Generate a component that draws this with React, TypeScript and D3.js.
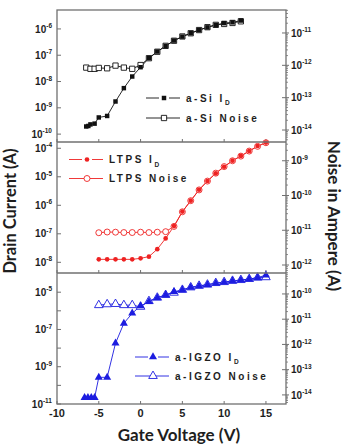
import * as d3 from 'd3';
import * as React from 'react';

// gate sweeps (V) and currents (A) for the three TFT technologies
const asiIdGate = [-6.5, -6.25, -6, -5.5, -5, -4, -3, -2, -1, 0, 1, 2, 3, 4, 5, 6, 7, 8, 9, 10, 11, 12];
const asiIdAmps = [1.95e-10, 2.04e-10, 2.34e-10, 2.5e-10, 4.3e-10, 4.9e-10, 1.74e-9, 5.6e-9, 1.55e-8, 3.5e-8,
    7.8e-8, 1.38e-7, 2.24e-7, 3.6e-7, 5.1e-7, 6.9e-7, 9.1e-7, 1.15e-6, 1.41e-6, 1.66e-6, 1.78e-6, 2.09e-6];
const asiNoiseGate = [-6.5, -6, -5.5, -5, -4, -3, -2, -1, 0, 1, 2, 3, 4, 5, 6, 7, 8, 9, 10, 11, 12];
const asiNoiseAmps = [8.5e-13, 7.8e-13, 7.8e-13, 8.3e-13, 8.1e-13, 9.8e-13, 8.5e-13, 7.8e-13, 1.02e-12, 1.66e-12,
    2.63e-12, 4.0e-12, 5.75e-12, 7.8e-12, 9.8e-12, 1.23e-11, 1.51e-11, 1.78e-11, 1.9e-11, 2.04e-11, 2.29e-11];

const ltpsGate = [-5, -4, -3, -2, -1, 0, 1, 2, 3, 4, 5, 6, 7, 8, 9, 10, 11, 12, 13, 14, 15];
const ltpsIdAmps = [1.27e-8, 1.27e-8, 1.27e-8, 1.27e-8, 1.27e-8, 1.38e-8, 1.58e-8, 2.9e-8, 6.9e-8, 1.86e-7,
    6.0e-7, 1.45e-6, 3.5e-6, 7.1e-6, 1.32e-5, 2.24e-5, 3.67e-5, 5.4e-5, 8.0e-5, 1.2e-4, 1.58e-4];
const ltpsNoiseAmps = [8.5e-12, 8.9e-12, 8.8e-12, 8.6e-12, 8.6e-12, 8.8e-12, 8.6e-12, 8.8e-12, 9.1e-12, 1.29e-11,
    3.4e-11, 7.1e-11, 1.45e-10, 2.6e-10, 4.4e-10, 6.8e-10, 1.0e-9, 1.36e-9, 1.9e-9, 2.6e-9, 3.3e-9];

const igzoIdGate = [-6.7, -6.3, -5.9, -5.5, -5, -4, -3, -2, -1, 0, 1, 2, 3, 4, 5, 6, 7, 8, 9, 10, 11, 12, 13, 14, 15];
const igzoIdAmps = [2.2e-11, 2.2e-11, 2.2e-11, 2.2e-11, 2.7e-10, 2.7e-10, 1.82e-8, 2.14e-7, 7.4e-7, 1.82e-6,
    3.1e-6, 5.0e-6, 7.1e-6, 1.07e-5, 1.32e-5, 1.82e-5, 2.14e-5, 2.5e-5, 3.0e-5, 3.4e-5, 4.0e-5, 4.5e-5,
    5.1e-5, 6.0e-5, 8.3e-5];
const igzoNoiseGate = [-5, -4, -3, -2, -1, 0, 1, 2, 3, 4, 5, 6, 7, 8, 9, 10, 11, 12, 13, 14, 15];
const igzoNoiseAmps = [3.6e-11, 3.9e-11, 4.0e-11, 3.6e-11, 3.6e-11, 3.1e-11, 5.2e-11, 7.1e-11, 9.1e-11, 1.12e-10,
    1.45e-10, 1.82e-10, 2.1e-10, 2.34e-10, 2.7e-10, 2.95e-10, 3.3e-10, 3.55e-10, 3.9e-10, 4.4e-10, 4.6e-10];

// tick values
const gateTicks = [-10, -5, 0, 5, 10, 15];
const asiLeftTicks = [1e-10, 1e-9, 1e-8, 1e-7, 1e-6];
const asiRightTicks = [1e-14, 1e-13, 1e-12, 1e-11];
const ltpsLeftTicks = [1e-8, 1e-7, 1e-6, 1e-5, 1e-4];
const ltpsRightTicks = [1e-12, 1e-11, 1e-10, 1e-9];
const igzoLeftTicks = [1e-11, 1e-10, 1e-9, 1e-8, 1e-7, 1e-6, 1e-5];
const igzoLeftLabels = [1e-11, 1e-9, 1e-7, 1e-5];
const igzoRightTicks = [1e-14, 1e-13, 1e-12, 1e-11, 1e-10];

// legend names
const asiNames = ['a-Si I', 'a-Si Noise'];
const ltpsNames = ['LTPS I', 'LTPS Noise'];
const igzoNames = ['a-IGZO I', 'a-IGZO Noise'];

const width = 345;
const height = 447;
const plotLeft = 57;
const plotRight = 286;
const frameColor = '#707070';
const textColor = '#1e1e1e';
const tickFont = '"Liberation Sans", Arial, sans-serif';
const titleFont = 'Lato, "Open Sans", sans-serif';

const x = d3.scaleLinear().domain([-10, 17.4]).range([plotLeft, plotRight]);

type MarkerKind = 'square' | 'circle' | 'triangle';

interface PanelProps {
    top: number;
    bottom: number;
    leftExp: [number, number];
    rightExp: [number, number];
    leftTicks: number[];
    leftLabels: number[];
    rightTicks: number[];
    color: string;
    marker: MarkerKind;
    idGate: number[];
    idAmps: number[];
    noiseGate: number[];
    noiseAmps: number[];
    names: string[];
    legendX: number;
    legendY: [number, number];
}

const symbolOf = (kind: MarkerKind) =>
    kind === 'square' ? d3.symbolSquare : kind === 'circle' ? d3.symbolCircle : d3.symbolTriangle;

/**
 * Exponent label like 10^-6
 */
const PowerLabel = (props: { value: number; x: number; y: number; anchor: 'start' | 'end' }) => {
    const exp = Math.round(Math.log10(props.value));
    return (
        <text x={props.x} y={props.y} dy="0.36em" textAnchor={props.anchor} fontFamily={tickFont}
            fontWeight="bold" fontSize={10} fill={textColor}>
            10<tspan fontSize={6.5} dy={-4.5}>{`-${Math.abs(exp)}`}</tspan>
        </text>
    );
};

/**
 * One stacked panel: drain current on the left axis, noise on the right axis
 */
const Panel = (p: PanelProps) => {
    const yLeft = d3.scaleLog().domain([10 ** p.leftExp[0], 10 ** p.leftExp[1]]).range([p.bottom, p.top]);
    const yRight = d3.scaleLog().domain([10 ** p.rightExp[0], 10 ** p.rightExp[1]]).range([p.bottom, p.top]);

    const idLine = d3.line<number>().x((_, i) => x(p.idGate[i])).y(d => yLeft(d));
    const noiseLine = d3.line<number>().x((_, i) => x(p.noiseGate[i])).y(d => yRight(d));

    const sym = symbolOf(p.marker);
    const filledSize = p.marker === 'triangle' ? 28 : p.marker === 'circle' ? 17 : 20;
    const openSize = p.marker === 'triangle' ? 32 : p.marker === 'circle' ? 28 : 28;
    const filledPath = d3.symbol().type(sym).size(filledSize)()!;
    const openPath = d3.symbol().type(sym).size(openSize)()!;

    // minor ticks on the noise axis
    const minor: number[] = [];
    const [rLo, rHi] = yRight.domain();
    for (let e = Math.floor(Math.log10(rLo)); e <= Math.ceil(Math.log10(rHi)); e++) {
        for (let k = 2; k <= 9; k++) {
            const v = k * 10 ** e;
            if (v > rLo && v < rHi) minor.push(v);
        }
    }

    const lx0 = p.legendX - 18;
    const lx1 = p.legendX + 16;

    return (
        <g>
            {/* connecting lines */}
            <path d={noiseLine(p.noiseAmps)!} fill="none" stroke={p.color} strokeWidth={0.9} />
            <path d={idLine(p.idAmps)!} fill="none" stroke={p.color} strokeWidth={0.9} />
            {/* noise: open markers */}
            {p.noiseAmps.map((d, i) => (
                <path key={`n${i}`} d={openPath} transform={`translate(${x(p.noiseGate[i])},${yRight(d)})`}
                    fill="#fff" stroke={p.color} strokeWidth={0.9} />
            ))}
            {/* drain current: filled markers */}
            {p.idAmps.map((d, i) => (
                <path key={`d${i}`} d={filledPath} transform={`translate(${x(p.idGate[i])},${yLeft(d)})`}
                    fill={p.color} />
            ))}

            {/* left axis ticks and labels */}
            {p.leftTicks.map(t => (
                <line key={`lt${t}`} x1={plotLeft} x2={plotLeft + 4} y1={yLeft(t)} y2={yLeft(t)}
                    stroke={frameColor} strokeWidth={1} />
            ))}
            {p.leftLabels.map(t => (
                <PowerLabel key={`ll${t}`} value={t} x={plotLeft - 5} y={yLeft(t)} anchor="end" />
            ))}

            {/* right axis ticks and labels */}
            {minor.map(t => (
                <line key={`rm${t}`} x1={plotRight} x2={plotRight + 2} y1={yRight(t)} y2={yRight(t)}
                    stroke={frameColor} strokeWidth={0.8} />
            ))}
            {p.rightTicks.map(t => (
                <g key={`rt${t}`}>
                    <line x1={plotRight - 4} x2={plotRight + 3} y1={yRight(t)} y2={yRight(t)}
                        stroke={frameColor} strokeWidth={1} />
                    <PowerLabel value={t} x={plotRight + 5} y={yRight(t)} anchor="start" />
                </g>
            ))}

            {/* gate voltage ticks on the panel floor */}
            {gateTicks.map(t => (
                <line key={`gt${t}`} x1={x(t)} x2={x(t)} y1={p.bottom} y2={p.bottom - 3}
                    stroke={frameColor} strokeWidth={1} />
            ))}

            {/* legend */}
            {p.names.map((name, i) => {
                const ly = p.legendY[i];
                const isId = i === 0;
                return (
                    <g key={name}>
                        {isId ? (
                            <g>
                                <line x1={lx0} x2={p.legendX - 5} y1={ly} y2={ly} stroke={p.color} strokeWidth={0.9} />
                                <line x1={p.legendX + 5} x2={lx1} y1={ly} y2={ly} stroke={p.color} strokeWidth={0.9} />
                                <path d={filledPath} transform={`translate(${p.legendX},${ly})`} fill={p.color} />
                            </g>
                        ) : (
                            <g>
                                <line x1={lx0} x2={lx1} y1={ly} y2={ly} stroke={p.color} strokeWidth={0.9} />
                                <path d={openPath} transform={`translate(${p.legendX},${ly})`}
                                    fill="#fff" stroke={p.color} strokeWidth={0.9} />
                            </g>
                        )}
                        <text x={lx1 + 6} y={ly} dy="0.36em" fontFamily={tickFont} fontWeight="bold"
                            fontSize={10} letterSpacing={2.5} fill={textColor}>
                            {name}
                            {isId && <tspan fontSize={6.5} dy={3.5}>D</tspan>}
                        </text>
                    </g>
                );
            })}
        </g>
    );
};

const panels: PanelProps[] = [
    {
        top: 10, bottom: 142, leftExp: [-10.3, -5.28], rightExp: [-14.37, -10.29],
        leftTicks: asiLeftTicks, leftLabels: asiLeftTicks, rightTicks: asiRightTicks,
        color: '#111111', marker: 'square',
        idGate: asiIdGate, idAmps: asiIdAmps, noiseGate: asiNoiseGate, noiseAmps: asiNoiseAmps,
        names: asiNames, legendX: 164, legendY: [98, 118],
    },
    {
        top: 142, bottom: 273, leftExp: [-8.375, -3.78], rightExp: [-12.23, -8.46],
        leftTicks: ltpsLeftTicks, leftLabels: ltpsLeftTicks, rightTicks: ltpsRightTicks,
        color: '#ee2222', marker: 'circle',
        idGate: ltpsGate, idAmps: ltpsIdAmps, noiseGate: ltpsGate, noiseAmps: ltpsNoiseAmps,
        names: ltpsNames, legendX: 87, legendY: [159.5, 178.5],
    },
    {
        top: 273, bottom: 404, leftExp: [-11, -3.97], rightExp: [-14.36, -9.17],
        leftTicks: igzoLeftTicks, leftLabels: igzoLeftLabels, rightTicks: igzoRightTicks,
        color: '#1c1ce0', marker: 'triangle',
        idGate: igzoIdGate, idAmps: igzoIdAmps, noiseGate: igzoNoiseGate, noiseAmps: igzoNoiseAmps,
        names: igzoNames, legendX: 153, legendY: [357, 376],
    },
];

/**
 * Stacked drain current / noise plot for a-Si, LTPS and a-IGZO TFTs
 */
export default function App() {
    return (
        <svg width={width} height={height} style={{ position: 'absolute', left: 0, top: 0, background: '#fff' }}>
            <rect x={0} y={0} width={width} height={height} fill="#fff" />
            {panels.map((p, i) => <Panel key={i} {...p} />)}

            {/* frame and panel dividers */}
            <rect x={plotLeft} y={10} width={plotRight - plotLeft} height={404 - 10}
                fill="none" stroke={frameColor} strokeWidth={1.3} />
            {[142, 273].map(y => (
                <line key={y} x1={plotLeft} x2={plotRight} y1={y} y2={y} stroke={frameColor} strokeWidth={1.3} />
            ))}

            {/* gate voltage tick labels */}
            {gateTicks.map(t => (
                <text key={t} x={x(t)} y={417} textAnchor="middle" fontFamily={tickFont} fontWeight="bold"
                    fontSize={11} fill={textColor}>{t}</text>
            ))}

            {/* axis titles */}
            <text x={179} y={441} textAnchor="middle" fontFamily={titleFont} fontWeight="bold"
                fontSize={17} fill={textColor}>Gate Voltage (V)</text>
            <text transform="translate(16,211) rotate(-90)" textAnchor="middle" fontFamily={titleFont}
                fontWeight="bold" fontSize={16.5} fill={textColor}>Drain Current (A)</text>
            <text transform="translate(328,216) rotate(90)" textAnchor="middle" fontFamily={titleFont}
                fontWeight="bold" fontSize={17} fill={textColor}>Noise in Ampere (A)</text>
        </svg>
    );
}
